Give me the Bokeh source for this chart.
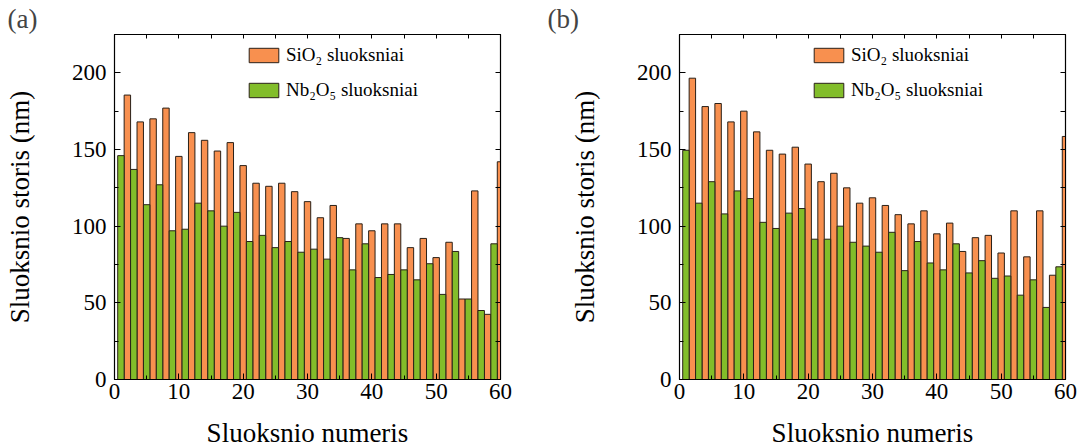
from bokeh.plotting import figure
from bokeh.models import LinearAxis, FixedTicker, Range1d, Legend, LegendItem
from bokeh.layouts import row
from bokeh.embed import file_html
from bokeh.resources import INLINE

# ---- data ----
nb_layers = list(range(1, 60, 2))
sio_layers = list(range(2, 61, 2))

nb2o5_a = [146, 137, 114, 127, 97, 98, 115, 110, 100, 109,
           90, 94, 86, 90, 83, 85, 78.5, 92.5, 71.5, 88.5,
           66.5, 68.5, 71.5, 65, 75.5, 55.5, 83.5, 52.5, 45, 88.5]
sio2_a = [185.5, 168, 170, 177, 145.5, 161, 156, 149, 154.5, 139.5,
          128, 126, 128, 122.5, 116, 105.5, 113.5, 92, 101.5, 97,
          101.5, 101.5, 86, 92, 79.5, 89.5, 52.5, 123, 42.5, 142]

nb2o5_b = [149.5, 115, 129, 108, 123, 118, 102.5, 98.5, 108.5, 111.5,
           91.5, 91.5, 100, 89.5, 87, 83, 96, 71, 90, 76,
           71.5, 88.5, 69.5, 77.5, 66, 67.5, 55, 65, 47, 73.5]
sio2_b = [196.5, 178, 180, 168, 175, 161.5, 149.5, 147, 151.5, 140.5,
          129, 134.5, 125, 115, 118.5, 113.5, 107.5, 101.5, 110, 95,
          102, 83.5, 92.5, 94, 82.5, 110, 80, 110, 68, 158.5]

xticks = [0, 10, 20, 30, 40, 50, 60]
xminor = [5, 15, 25, 35, 45, 55]
yticks = [0, 50, 100, 150, 200]
yminor = [25, 75, 125, 175, 225]

ORANGE = "#F8904F"
GREEN = "#82BD2A"
EDGE = "#2a2018"
FONT = "Liberation Serif"


def make_panel(tag, nb_vals, sio_vals, left_border, right_border):
    p = figure(frame_width=386, frame_height=345,
               x_range=Range1d(0, 60), y_range=Range1d(0, 225),
               output_backend="svg", toolbar_location=None,
               min_border_left=left_border, min_border_right=right_border,
               min_border_top=33, min_border_bottom=69,
               background_fill_color="white", border_fill_color="white",
               outline_line_color="black", outline_line_width=1.2)
    p.grid.visible = False

    r_sio = p.vbar(x=sio_layers, top=sio_vals, width=1.0, bottom=0,
                   fill_color=ORANGE, line_color=EDGE, line_width=1)
    r_nb = p.vbar(x=nb_layers, top=nb_vals, width=1.0, bottom=0,
                  fill_color=GREEN, line_color=EDGE, line_width=1)

    xa = p.xaxis[0]
    ya = p.yaxis[0]
    xa.ticker = FixedTicker(ticks=xticks, minor_ticks=xminor)
    ya.ticker = FixedTicker(ticks=yticks, minor_ticks=yminor)
    for ax in (xa, ya):
        ax.major_tick_in = 6
        ax.major_tick_out = 0
        ax.minor_tick_in = 4
        ax.minor_tick_out = 0
        ax.axis_line_color = "black"
        ax.major_label_text_font = FONT
        ax.major_label_text_font_size = "23px"
        ax.major_label_text_color = "black"
        ax.axis_label_text_font = FONT
        ax.axis_label_text_font_size = "27px"
        ax.axis_label_text_font_style = "normal"
        ax.axis_label_text_color = "black"
    xa.axis_label = "Sluoksnio numeris"
    ya.axis_label = "Sluoksnio storis (nm)"
    xa.major_label_standoff = 4
    ya.major_label_standoff = 8
    xa.axis_label_standoff = 16
    ya.axis_label_standoff = 34

    top = LinearAxis(ticker=FixedTicker(ticks=xticks + xminor, minor_ticks=[]),
                     major_tick_in=4, major_tick_out=0, minor_tick_in=0, minor_tick_out=0,
                     major_label_text_font_size="0px", major_label_text_color=None,
                     axis_line_color="black")
    right = LinearAxis(ticker=FixedTicker(ticks=yticks + yminor, minor_ticks=[]),
                       major_tick_in=5, major_tick_out=0, minor_tick_in=0, minor_tick_out=0,
                       major_label_text_font_size="0px", major_label_text_color=None,
                       axis_line_color="black")
    p.add_layout(top, "above")
    p.add_layout(right, "right")

    legend = Legend(items=[LegendItem(label="SiO\u2082 sluoksniai", renderers=[r_sio]),
                           LegendItem(label="Nb\u2082O\u2085 sluoksniai", renderers=[r_nb])],
                    location=(131, 278), orientation="vertical",
                    glyph_width=37, glyph_height=18, label_height=18,
                    label_standoff=4, spacing=13, padding=0, margin=0,
                    border_line_color=None, background_fill_alpha=0,
                    label_text_font=FONT, label_text_font_size="19px",
                    label_text_color="black")
    p.add_layout(legend, "center")

    p.title.text = tag
    p.title.align = "left"
    p.title.text_font = FONT
    p.title.text_font_size = "27px"
    p.title.text_font_style = "normal"
    p.title.offset = -(left_border - 7)
    p.title.standoff = 2
    return p


p1 = make_panel("(a)", nb2o5_a, sio2_a, 114, 40)
p2 = make_panel("(b)", nb2o5_b, sio2_b, 139, 16)

layout = row(p1, p2, spacing=0)
open("out.html", "w").write(file_html(layout, INLINE))
